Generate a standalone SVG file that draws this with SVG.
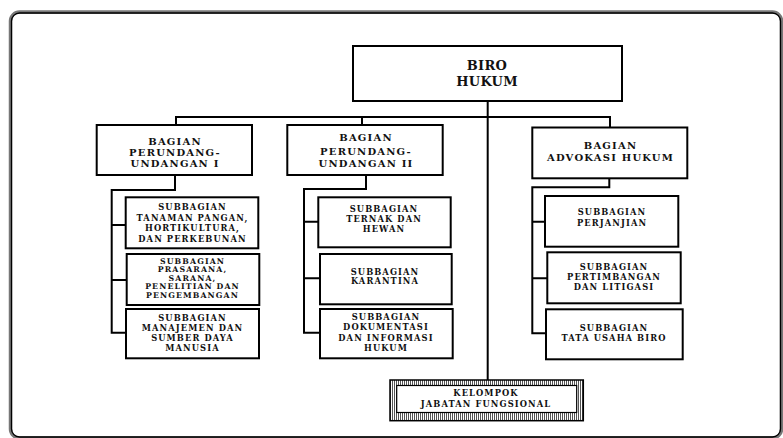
<svg xmlns="http://www.w3.org/2000/svg" width="783" height="438" viewBox="0 0 783 438">
<defs>
<pattern id="hatch" width="2" height="2" patternUnits="userSpaceOnUse">
<rect width="2" height="2" fill="#fff"/>
<rect width="1" height="2" fill="#555"/>
</pattern>
<style>
.box{fill:#fff;stroke:#000;stroke-width:2}
.ln{fill:none;stroke:#000;stroke-width:2}
text{font-family:"DejaVu Serif","Liberation Serif",serif;font-weight:bold;fill:#111;text-anchor:middle}
.t1{font-size:13px;letter-spacing:0.3px}
.t2{font-size:10px;letter-spacing:1.2px}
.t3{font-size:8.3px;letter-spacing:1.1px}
.t4{font-size:7.8px;letter-spacing:1.1px}
</style>
</defs>
<rect width="783" height="438" fill="#fff"/>
<g id="frame">
<rect x="10.5" y="12" width="771" height="426" rx="9" fill="none" stroke="#777" stroke-width="3.5"/>
<rect x="11.5" y="13" width="769" height="424" rx="8" fill="none" stroke="#000" stroke-width="1.3"/>
</g>
<g id="connectors">
<path class="ln" d="M487.7,101 V380"/>
<path class="ln" d="M176,125 V117 H610 V128"/>
<path class="ln" d="M362,117 V125"/>
<path class="ln" d="M175,175 V190 H111.7 V332.7 H126 M111.7,225 H125.7 M111.7,280 H126.7"/>
<path class="ln" d="M366,175 V189 H304 V332.7 H320 M304,221.7 H318.3 M304,278.3 H320"/>
<path class="ln" d="M609.3,178 V187.3 H532.3 V333.3 H546 M532.3,221.7 H545 M532.3,278.3 H547.3"/>
</g>
<g id="biro-hukum">
<rect class="box" x="353" y="46" width="269" height="55"/>
<text class="t1" x="487" y="69.5">BIRO</text>
<text class="t1" x="487" y="85.5">HUKUM</text>
</g>
<g id="bagian-pu1">
<rect class="box" x="96.7" y="125" width="155.3" height="50"/>
<text class="t2" x="175" y="145">BAGIAN</text>
<text class="t2" x="175" y="156">PERUNDANG-</text>
<text class="t2" x="175" y="167">UNDANGAN I</text>
</g>
<g id="bagian-pu2">
<rect class="box" x="287.3" y="125" width="155.4" height="50"/>
<text class="t2" x="366" y="141">BAGIAN</text>
<text class="t2" x="366" y="155">PERUNDANG-</text>
<text class="t2" x="366" y="167">UNDANGAN II</text>
</g>
<g id="bagian-advokasi">
<rect class="box" x="532.3" y="127.5" width="155" height="50.8"/>
<text class="t2" x="610.5" y="148.6">BAGIAN</text>
<text class="t2" x="610.5" y="161">ADVOKASI HUKUM</text>
</g>
<g id="sub-tanaman">
<rect class="box" x="125.7" y="197.3" width="132.6" height="51"/>
<text class="t3" x="192.5" y="210">SUBBAGIAN</text>
<text class="t3" x="192.5" y="220.5">TANAMAN PANGAN,</text>
<text class="t3" x="192.5" y="231">HORTIKULTURA,</text>
<text class="t3" x="192.5" y="241.5">DAN PERKEBUNAN</text>
</g>
<g id="sub-prasarana">
<rect class="box" x="126.7" y="254" width="132.6" height="51"/>
<text class="t4" x="192.5" y="263.5">SUBBAGIAN</text>
<text class="t4" x="192.5" y="272">PRASARANA,</text>
<text class="t4" x="192.5" y="280.5">SARANA,</text>
<text class="t4" x="192.5" y="289">PENELITIAN DAN</text>
<text class="t4" x="192.5" y="297.5">PENGEMBANGAN</text>
</g>
<g id="sub-manajemen">
<rect class="box" x="126" y="309" width="133" height="49.3"/>
<text class="t3" x="192.5" y="321">SUBBAGIAN</text>
<text class="t3" x="192.5" y="331">MANAJEMEN DAN</text>
<text class="t3" x="192.5" y="341">SUMBER DAYA</text>
<text class="t3" x="192.5" y="351">MANUSIA</text>
</g>
<g id="sub-ternak">
<rect class="box" x="318.3" y="197.3" width="132.4" height="50"/>
<text class="t3" x="384" y="212.3">SUBBAGIAN</text>
<text class="t3" x="384" y="222.3">TERNAK DAN</text>
<text class="t3" x="384" y="232">HEWAN</text>
</g>
<g id="sub-karantina">
<rect class="box" x="320" y="254" width="131.7" height="50.3"/>
<text class="t3" x="385" y="274.7">SUBBAGIAN</text>
<text class="t3" x="385" y="284">KARANTINA</text>
</g>
<g id="sub-dokumentasi">
<rect class="box" x="320" y="309" width="132.7" height="49.3"/>
<text class="t3" x="386" y="320">SUBBAGIAN</text>
<text class="t3" x="386" y="330">DOKUMENTASI</text>
<text class="t3" x="386" y="340.5">DAN INFORMASI</text>
<text class="t3" x="386" y="350.5">HUKUM</text>
</g>
<g id="sub-perjanjian">
<rect class="box" x="545" y="196" width="133.3" height="50.7"/>
<text class="t3" x="612" y="214.7">SUBBAGIAN</text>
<text class="t3" x="612" y="226">PERJANJIAN</text>
</g>
<g id="sub-pertimbangan">
<rect class="box" x="547.3" y="252.3" width="133.4" height="51"/>
<text class="t3" x="614" y="270.3">SUBBAGIAN</text>
<text class="t3" x="614" y="279.7">PERTIMBANGAN</text>
<text class="t3" x="614" y="289.7">DAN LITIGASI</text>
</g>
<g id="sub-tata-usaha">
<rect class="box" x="546" y="309.3" width="136.7" height="50"/>
<text class="t3" x="614" y="330.7">SUBBAGIAN</text>
<text class="t3" x="614" y="341.3">TATA USAHA BIRO</text>
</g>
<g id="kelompok-jabatan">
<rect x="390" y="380" width="193.3" height="40.7" fill="url(#hatch)" stroke="#000" stroke-width="1.5"/>
<rect x="396.7" y="385.5" width="180" height="27" fill="#fff" stroke="#000" stroke-width="1.2"/>
<text class="t3" x="486" y="396">KELOMPOK</text>
<text class="t3" x="486" y="406.5">JABATAN FUNGSIONAL</text>
</g>
</svg>
